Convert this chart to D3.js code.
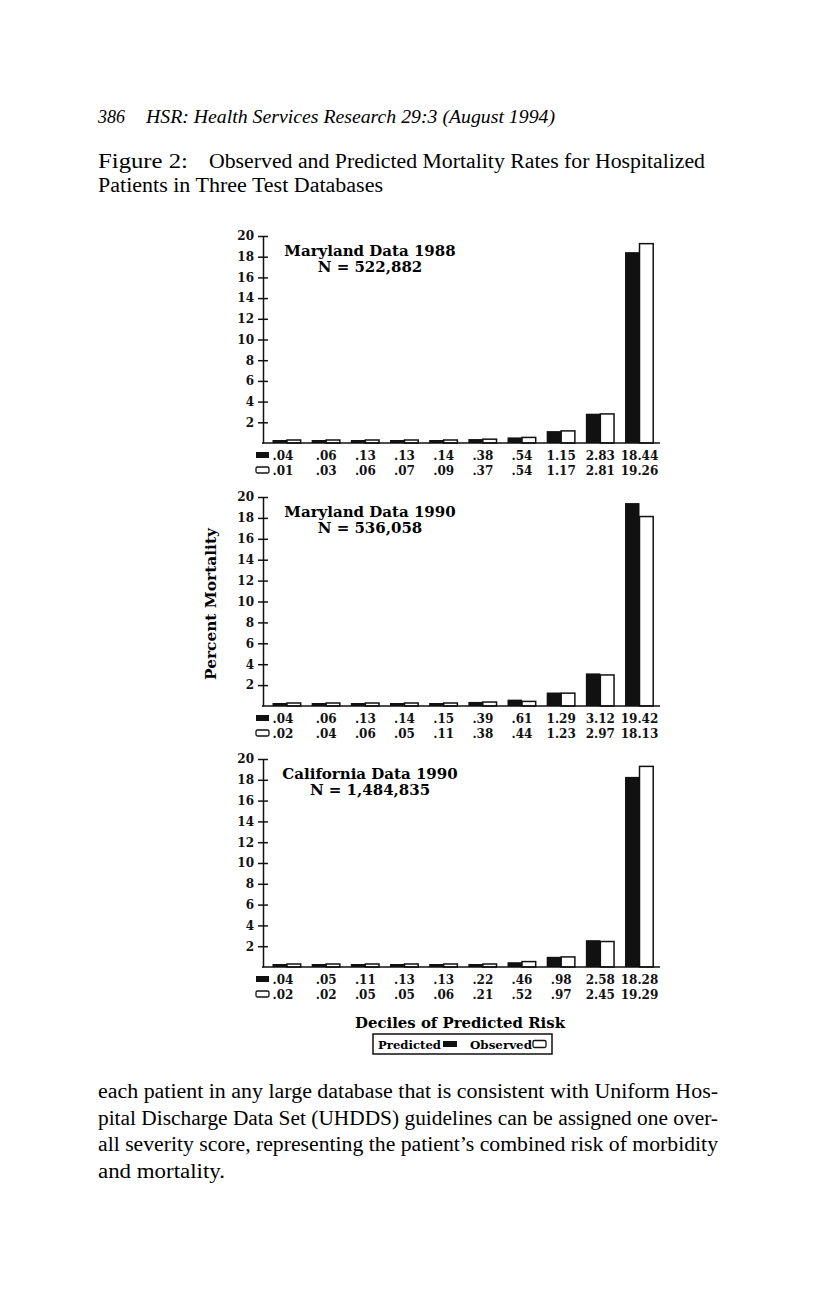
<!DOCTYPE html>
<html>
<head>
<meta charset="utf-8">
<script src="https://cdn.jsdelivr.net/npm/d3@7"></script>
<style>
  body { margin: 0; background: #fff; }
  svg { display: block; }
</style>
</head>
<body>
<svg id="page" width="816" height="1303"></svg>
<script>
// Deciles of predicted risk, values in percent
var deciles = ['1', '2', '3', '4', '5', '6', '7', '8', '9', '10'];
var yTicks = [2, 4, 6, 8, 10, 12, 14, 16, 18, 20];

var md88Predicted = [0.04, 0.06, 0.13, 0.13, 0.14, 0.38, 0.54, 1.15, 2.83, 18.44];
var md88Observed  = [0.01, 0.03, 0.06, 0.07, 0.09, 0.37, 0.54, 1.17, 2.81, 19.26];
var md90Predicted = [0.04, 0.06, 0.13, 0.14, 0.15, 0.39, 0.61, 1.29, 3.12, 19.42];
var md90Observed  = [0.02, 0.04, 0.06, 0.05, 0.11, 0.38, 0.44, 1.23, 2.97, 18.13];
var ca90Predicted = [0.04, 0.05, 0.11, 0.13, 0.13, 0.22, 0.46, 0.98, 2.58, 18.28];
var ca90Observed  = [0.02, 0.02, 0.05, 0.05, 0.06, 0.21, 0.52, 0.97, 2.45, 19.29];

var md88Labels = { pred: ['.04', '.06', '.13', '.13', '.14', '.38', '.54', '1.15', '2.83', '18.44'],
                   obs:  ['.01', '.03', '.06', '.07', '.09', '.37', '.54', '1.17', '2.81', '19.26'] };
var md90Labels = { pred: ['.04', '.06', '.13', '.14', '.15', '.39', '.61', '1.29', '3.12', '19.42'],
                   obs:  ['.02', '.04', '.06', '.05', '.11', '.38', '.44', '1.23', '2.97', '18.13'] };
var ca90Labels = { pred: ['.04', '.05', '.11', '.13', '.13', '.22', '.46', '.98', '2.58', '18.28'],
                   obs:  ['.02', '.02', '.05', '.05', '.06', '.21', '.52', '.97', '2.45', '19.29'] };

var svg = d3.select('#page');
var serif = '"Liberation Serif", "DejaVu Serif", serif';
var slab = '"DejaVu Serif", serif';

// Running head
svg.append('text').attr('x', 98).attr('y', 123)
    .attr('font-family', serif).attr('font-style', 'italic').attr('font-size', 18)
    .text('386');
svg.append('text').attr('x', 146).attr('y', 123)
    .attr('font-family', serif).attr('font-style', 'italic').attr('font-size', 18)
    .attr('textLength', 409).attr('lengthAdjust', 'spacingAndGlyphs')
    .text('HSR: Health Services Research 29:3 (August 1994)');

// Caption
svg.append('text').attr('x', 98).attr('y', 168)
    .attr('font-family', serif).attr('font-size', 20)
    .attr('textLength', 90).attr('lengthAdjust', 'spacingAndGlyphs')
    .text('Figure 2:');
svg.append('text').attr('x', 209).attr('y', 168)
    .attr('font-family', serif).attr('font-size', 20)
    .attr('textLength', 496).attr('lengthAdjust', 'spacingAndGlyphs')
    .text('Observed and Predicted Mortality Rates for Hospitalized');
svg.append('text').attr('x', 98).attr('y', 192)
    .attr('font-family', serif).attr('font-size', 20)
    .attr('textLength', 285).attr('lengthAdjust', 'spacingAndGlyphs')
    .text('Patients in Three Test Databases');

// Shared x scales
var x = d3.scaleBand().domain(deciles).range([267.4, 659.1])
    .paddingInner(0.26).paddingOuter(0.13);
var xs = d3.scaleBand().domain(['pred', 'obs']).range([0, x.bandwidth()]);

var drawPanel = function (top, base, title, subtitle, pred, obs, labels) {
    var y = d3.scaleLinear().domain([0, 20]).range([base, top]);
    var g = svg.append('g');

    // bars (thin ones kept visible like the print)
    var rows = deciles.map(function (d, i) {
        return { d: d, pred: pred[i], obs: obs[i] };
    });
    var grp = g.selectAll('g.dec').data(rows).enter().append('g')
        .attr('transform', function (r) { return 'translate(' + x(r.d) + ',0)'; });
    grp.append('rect')
        .attr('x', xs('pred'))
        .attr('width', xs.bandwidth())
        .attr('y', function (r) { return Math.min(y(r.pred), base - 3); })
        .attr('height', function (r) { return Math.max(base - y(r.pred), 3); })
        .attr('fill', '#111');
    grp.append('rect')
        .attr('x', xs('obs'))
        .attr('width', xs.bandwidth() - 0.8)
        .attr('y', function (r) { return Math.min(y(r.obs), base - 3); })
        .attr('height', function (r) { return Math.max(base - y(r.obs), 3); })
        .attr('fill', '#fff').attr('stroke', '#111').attr('stroke-width', 1.5);

    // y axis with crossing ticks
    var ax = g.append('g').attr('transform', 'translate(263,0)')
        .call(d3.axisLeft(y).tickValues(yTicks).tickSizeInner(5).tickSizeOuter(0).tickPadding(4));
    ax.select('.domain').attr('stroke', '#111').attr('stroke-width', 1.5);
    ax.selectAll('.tick line').attr('x1', 5).attr('x2', -5).attr('stroke', '#111').attr('stroke-width', 1.5);
    ax.selectAll('.tick text').attr('font-family', slab).attr('font-weight', 'bold')
        .attr('font-size', 12).attr('fill', '#111');

    // baseline
    g.append('line').attr('x1', 262).attr('x2', 660).attr('y1', base).attr('y2', base)
        .attr('stroke', '#111').attr('stroke-width', 1.5);

    // panel title
    g.append('text').attr('x', 370).attr('y', top + 20).attr('text-anchor', 'middle')
        .attr('font-family', slab).attr('font-weight', 'bold').attr('font-size', 15)
        .text(title);
    g.append('text').attr('x', 370).attr('y', top + 36).attr('text-anchor', 'middle')
        .attr('font-family', slab).attr('font-weight', 'bold').attr('font-size', 15)
        .text(subtitle);

    // value rows under the bars
    ['pred', 'obs'].forEach(function (k, j) {
        var ty = base + 17 + j * 15;
        g.selectAll('text.v' + k).data(labels[k]).enter().append('text')
            .attr('x', function (t, i) { return x(deciles[i]) + x.bandwidth() / 2 + (i === 0 ? -4 : 0); })
            .attr('y', ty)
            .attr('text-anchor', 'middle')
            .attr('font-family', slab).attr('font-weight', 'bold').attr('font-size', 12)
            .attr('fill', '#111')
            .text(function (t) { return t; });
        var key = g.append('rect').attr('x', 256).attr('y', ty - 8).attr('width', 13).attr('height', 6);
        if (k === 'pred') key.attr('fill', '#111');
        else key.attr('fill', '#fff').attr('stroke', '#111').attr('stroke-width', 1.3).attr('rx', 1.5);
    });
};

drawPanel(236, 443, 'Maryland Data 1988', 'N = 522,882', md88Predicted, md88Observed, md88Labels);
drawPanel(497, 706, 'Maryland Data 1990', 'N = 536,058', md90Predicted, md90Observed, md90Labels);
drawPanel(759, 967, 'California Data 1990', 'N = 1,484,835', ca90Predicted, ca90Observed, ca90Labels);

// y title
svg.append('text')
    .attr('transform', 'translate(216,604) rotate(-90)')
    .attr('text-anchor', 'middle')
    .attr('font-family', slab).attr('font-weight', 'bold').attr('font-size', 14)
    .attr('textLength', 152).attr('lengthAdjust', 'spacingAndGlyphs')
    .text('Percent Mortality');

// x title
svg.append('text').attr('x', 460).attr('y', 1028).attr('text-anchor', 'middle')
    .attr('font-family', slab).attr('font-weight', 'bold').attr('font-size', 15)
    .attr('textLength', 210).attr('lengthAdjust', 'spacingAndGlyphs')
    .text('Deciles of Predicted Risk');

// legend box
var lg = svg.append('g');
lg.append('rect').attr('x', 373).attr('y', 1034).attr('width', 179).attr('height', 20)
    .attr('fill', '#fff').attr('stroke', '#111').attr('stroke-width', 1.5);
lg.append('text').attr('x', 378).attr('y', 1048.5)
    .attr('font-family', slab).attr('font-weight', 'bold').attr('font-size', 11)
    .attr('textLength', 63).attr('lengthAdjust', 'spacingAndGlyphs')
    .text('Predicted');
lg.append('rect').attr('x', 443).attr('y', 1041).attr('width', 14).attr('height', 6).attr('fill', '#111');
lg.append('text').attr('x', 470).attr('y', 1048.5)
    .attr('font-family', slab).attr('font-weight', 'bold').attr('font-size', 11)
    .attr('textLength', 62).attr('lengthAdjust', 'spacingAndGlyphs')
    .text('Observed');
lg.append('rect').attr('x', 533).attr('y', 1040.5).attr('width', 13).attr('height', 7)
    .attr('fill', '#fff').attr('stroke', '#111').attr('stroke-width', 1.3).attr('rx', 1.5);

// body text below the figure
var bodyLines = [
    'each patient in any large database that is consistent with Uniform Hos-',
    'pital Discharge Data Set (UHDDS) guidelines can be assigned one over-',
    'all severity score, representing the patient\u2019s combined risk of morbidity',
    'and mortality.'
];
var bodyWidths = [620, 620, 620, 127];
svg.selectAll('text.body').data(bodyLines).enter().append('text')
    .attr('x', 98)
    .attr('y', function (d, i) { return 1098 + i * 26.5; })
    .attr('font-family', serif).attr('font-size', 20)
    .attr('textLength', function (d, i) { return bodyWidths[i]; })
    .attr('lengthAdjust', 'spacingAndGlyphs')
    .text(function (d) { return d; });
</script>
</body>
</html>
